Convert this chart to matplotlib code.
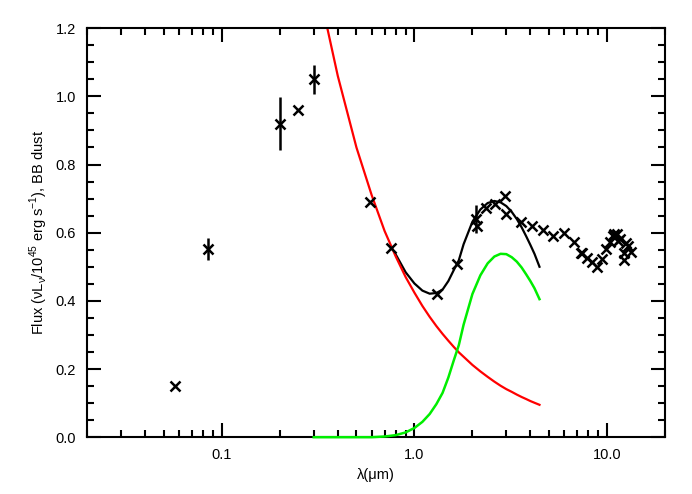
import matplotlib
matplotlib.use('Agg')
import matplotlib.pyplot as plt
import matplotlib.ticker as mticker
import numpy as np

plt.rcParams['font.family'] = ['Liberation Sans', 'DejaVu Sans']

# observed points: wavelength (micron), flux, error
lam_obs = [0.057, 0.085, 0.20, 0.25, 0.30, 0.59, 0.76, 1.31, 1.67, 2.08, 2.12,
           2.34, 2.61, 2.94, 2.99, 3.56, 4.10, 4.66, 5.23, 6.01, 6.75, 7.33,
           7.45, 7.91, 8.33, 8.85, 9.39, 9.89, 10.4, 10.7, 10.9, 11.2, 11.4,
           11.7, 12.2, 12.3, 12.6, 12.9, 13.3]
flux_obs = [0.150, 0.552, 0.920, 0.959, 1.050, 0.691, 0.555, 0.420, 0.508, 0.640, 0.620,
            0.672, 0.684, 0.708, 0.656, 0.632, 0.620, 0.609, 0.589, 0.598, 0.574, 0.539,
            0.539, 0.526, 0.515, 0.500, 0.523, 0.552, 0.572, 0.591, 0.596, 0.596, 0.577,
            0.580, 0.539, 0.520, 0.570, 0.562, 0.542]
err_obs = [0.0, 0.032, 0.078, 0.0, 0.043, 0.0, 0.0, 0.0, 0.0, 0.040, 0.0,
           0.0, 0.0, 0.0, 0.0, 0.0, 0.0, 0.0, 0.0, 0.0, 0.0, 0.0,
           0.0, 0.0, 0.0, 0.0, 0.0, 0.0, 0.0, 0.0, 0.0, 0.0, 0.0,
           0.0, 0.0, 0.0, 0.0, 0.0, 0.0]

# model curves
lam_mod = [0.30, 0.353, 0.40, 0.50, 0.60, 0.70, 0.80, 0.90, 1.0, 1.1, 1.2, 1.3,
           1.4, 1.5, 1.6, 1.7, 1.8, 2.0, 2.2, 2.4, 2.6, 2.8, 3.0, 3.2, 3.4,
           3.6, 3.8, 4.0, 4.2, 4.46]
red_mod = [1.41, 1.20, 1.06, 0.85, 0.71, 0.605, 0.53, 0.47, 0.424, 0.385, 0.353, 0.326,
           0.303, 0.283, 0.265, 0.249, 0.236, 0.212, 0.193, 0.177, 0.163, 0.151, 0.141,
           0.133, 0.125, 0.118, 0.112, 0.106, 0.101, 0.095]
green_mod = [0.0, 0.0, 0.0, 0.0, 0.0, 0.002, 0.006, 0.014, 0.027, 0.045, 0.068, 0.097,
             0.13, 0.175, 0.225, 0.27, 0.33, 0.42, 0.475, 0.51, 0.53, 0.538, 0.537,
             0.528, 0.515, 0.498, 0.478, 0.458, 0.437, 0.405]
total_mod = np.array(red_mod) + np.array(green_mod)

fig = plt.figure(figsize=(6.92, 4.94), dpi=100)
ax = fig.add_axes([0.126, 0.115, 0.835, 0.828])

# sum only drawn where it separates from the power law
start = 6
ax.plot(lam_mod[start:], total_mod[start:], color='black', lw=1.6, zorder=2)
ax.plot(lam_mod, red_mod, color='#ff0000', lw=1.6, zorder=2.2)
ax.plot(lam_mod, green_mod, color='#00ee00', lw=1.8, zorder=3, clip_on=False)
ax.errorbar(lam_obs, flux_obs, yerr=err_obs, fmt='x', color='black', ms=7,
            mew=1.8, elinewidth=1.8, capsize=0, zorder=4)

ax.set_xscale('log')
ax.set_xlim(0.02, 20)
ax.set_ylim(0, 1.2)
ax.xaxis.set_major_locator(mticker.FixedLocator([0.1, 1.0, 10.0]))
ax.xaxis.set_major_formatter(mticker.FixedFormatter(['0.1', '1.0', '10.0']))
ax.xaxis.set_minor_locator(mticker.LogLocator(base=10, subs=np.arange(2, 10)))
ax.xaxis.set_minor_formatter(mticker.NullFormatter())
ax.yaxis.set_major_locator(mticker.MultipleLocator(0.2))
ax.yaxis.set_minor_locator(mticker.MultipleLocator(0.05))
ax.yaxis.set_major_formatter(mticker.FormatStrFormatter('%.1f'))

ax.tick_params(which='both', direction='in', top=True, right=True, width=1.5,
               labelsize=10.5)
ax.tick_params(which='major', length=10, pad=8)
ax.tick_params(which='minor', length=5)
for s in ax.spines.values():
    s.set_linewidth(1.5)

ax.set_xlabel('λ(μm)', fontsize=10.5)
ax.set_ylabel(r'Flux (νL$_{\mathregular{ν}}$/10$^{\mathregular{45}}$ erg s$^{\mathregular{-1}}$), BB dust',
              fontsize=10.5)

fig.savefig('out.png', dpi=100)
